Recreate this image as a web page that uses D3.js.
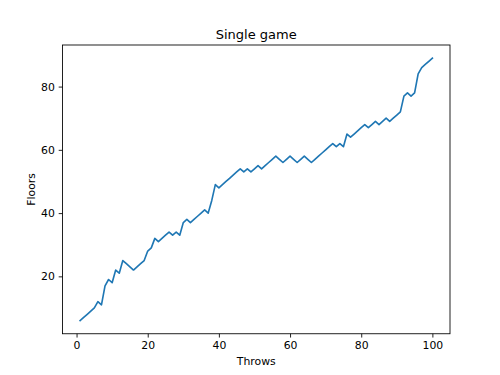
<!DOCTYPE html>
<meta charset="utf-8">
<script src="https://d3js.org/d3.v7.min.js"></script>
<style>
  body { margin: 0; background: #fff; }
  text { font-family: "DejaVu Sans", sans-serif; fill: #000; }
</style>
<svg id="chart" width="500" height="375"></svg>
<script>
  // floor reached after each throw
  var throws = d3.range(1, 101);
  var floors = [6, 7, 8, 9, 10, 12, 11, 17, 19, 18,
    22, 21, 25, 24, 23, 22, 23, 24, 25, 28,
    29, 32, 31, 32, 33, 34, 33, 34, 33, 37,
    38, 37, 38, 39, 40, 41, 40, 44, 49, 48,
    49, 50, 51, 52, 53, 54, 53, 54, 53, 54,
    55, 54, 55, 56, 57, 58, 57, 56, 57, 58,
    57, 56, 57, 58, 57, 56, 57, 58, 59, 60,
    61, 62, 61, 62, 61, 65, 64, 65, 66, 67,
    68, 67, 68, 69, 68, 69, 70, 69, 70, 71,
    72, 77, 78, 77, 78, 84, 86, 87, 88, 89];
  var xTicks = [0, 20, 40, 60, 80, 100];
  var yTicks = [20, 40, 60, 80];

  var svg = d3.select("#chart");
  // plot area (top is a reserved window prop, so use other names)
  var plotL = 62.5, plotR = 450, plotT = 45, plotB = 333.75;

  // matplotlib-like 5% margins
  var xmin = d3.min(throws), xmax = d3.max(throws);
  var ymin = d3.min(floors), ymax = d3.max(floors);
  var xpad = (xmax - xmin) * 0.05, ypad = (ymax - ymin) * 0.05;

  var x = d3.scaleLinear().domain([xmin - xpad, xmax + xpad]).range([plotL, plotR]);
  var y = d3.scaleLinear().domain([ymin - ypad, ymax + ypad]).range([plotB, plotT]);

  var line = d3.line()
    .x(function (d, i) { return x(throws[i]); })
    .y(function (d) { return y(d); });

  svg.append("path")
    .datum(floors)
    .attr("d", line)
    .attr("fill", "none")
    .attr("stroke", "#1f77b4")
    .attr("stroke-width", 1.63)
    .attr("stroke-linejoin", "round")
    .attr("stroke-linecap", "square");

  var xAxis = svg.append("g")
    .attr("transform", "translate(0," + plotB + ")")
    .call(d3.axisBottom(x).tickValues(xTicks).tickSize(3.8).tickPadding(3.8).tickFormat(d3.format("d")));
  var yAxis = svg.append("g")
    .attr("transform", "translate(" + plotL + ",0)")
    .call(d3.axisLeft(y).tickValues(yTicks).tickSize(3.8).tickPadding(3.8).tickFormat(d3.format("d")));

  [xAxis, yAxis].forEach(function (g) {
    g.select(".domain").remove();
    g.selectAll(".tick line").attr("stroke", "#000").attr("stroke-width", 0.87);
    g.selectAll(".tick text").style("font-size", "10.85px").style("font-family", "DejaVu Sans");
  });

  // frame
  svg.append("rect")
    .attr("x", plotL).attr("y", plotT)
    .attr("width", plotR - plotL).attr("height", plotB - plotT)
    .attr("fill", "none")
    .attr("stroke", "#000")
    .attr("stroke-width", 0.87);

  svg.append("text")
    .attr("x", (plotL + plotR) / 2)
    .attr("y", plotT - 6.5)
    .attr("text-anchor", "middle")
    .style("font-size", "13px")
    .text("Single game");

  svg.append("text")
    .attr("x", (plotL + plotR) / 2)
    .attr("y", 365)
    .attr("text-anchor", "middle")
    .style("font-size", "10.85px")
    .text("Throws");

  svg.append("text")
    .attr("transform", "translate(35," + (plotT + plotB) / 2 + ") rotate(-90)")
    .attr("text-anchor", "middle")
    .style("font-size", "10.85px")
    .text("Floors");
</script>
